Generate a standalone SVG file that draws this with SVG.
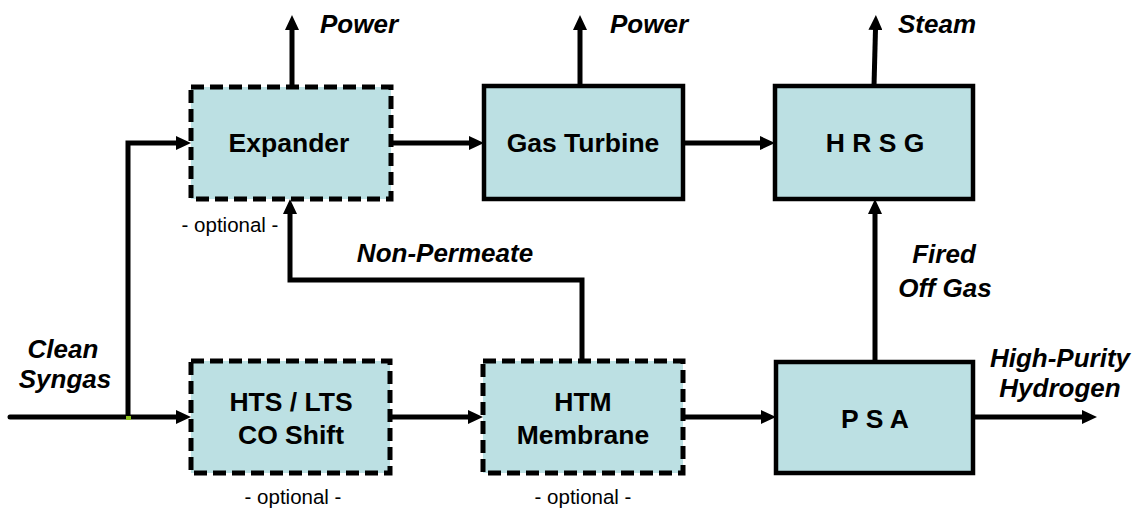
<svg xmlns="http://www.w3.org/2000/svg" width="1137" height="510" viewBox="0 0 1137 510">
<style>
.box{fill:#bce0e3;stroke:#000;stroke-width:4.5}
.dash{stroke-width:5;stroke-dasharray:13 6}
.lbl{font-family:"Liberation Sans",Arial,sans-serif;font-weight:bold;font-size:26.5px;fill:#000;text-anchor:middle}
.it{font-family:"Liberation Sans",Arial,sans-serif;font-weight:bold;font-style:italic;font-size:26px;fill:#000}
.opt{font-family:"Liberation Sans",Arial,sans-serif;font-size:20.5px;fill:#000;text-anchor:middle}
.c{fill:none;stroke:#000;stroke-width:5}
.ca{marker-end:url(#ah)}
</style>
<defs>
<marker id="ah" markerUnits="userSpaceOnUse" markerWidth="16" markerHeight="14" refX="1" refY="7" orient="auto">
<path d="M0,0 L15,7 L0,14 z" fill="#000"/>
</marker>
</defs>
<rect width="1137" height="510" fill="#fff"/>
<g id="connectors">
<path class="c" d="M10,417 H128" stroke-linecap="round"/>
<path class="c ca" d="M126,417 H177"/>
<path class="c ca" d="M128,419 V143 H177"/>
<path class="c ca" d="M292,87 V29"/>
<path class="c ca" d="M580,86 V29"/>
<path class="c ca" d="M874,86 L875.5,29"/>
<path class="c ca" d="M391,143 H470"/>
<path class="c ca" d="M683,143 H761"/>
<path class="c ca" d="M390,417 H469"/>
<path class="c ca" d="M683,417 H762"/>
<path class="c ca" d="M973,417 H1083"/>
<path class="c ca" d="M875,362 V213"/>
<path class="c ca" d="M582,360 V280 H290 V213"/>
<rect x="126" y="416" width="5" height="4" fill="#8fc31f"/>
</g>
<g id="expander">
<rect class="box dash" x="191" y="87" width="200" height="112"/>
<text class="lbl" x="289" y="152">Expander</text>
<text class="opt" x="230" y="232">- optional -</text>
</g>
<g id="gas-turbine">
<rect class="box" x="484" y="86" width="199" height="113"/>
<text class="lbl" x="583" y="152">Gas Turbine</text>
</g>
<g id="hrsg">
<rect class="box" x="775" y="86" width="198" height="113"/>
<text class="lbl" x="875" y="152">H R S G</text>
</g>
<g id="shift">
<rect class="box dash" x="191" y="361" width="199" height="112"/>
<text class="lbl" x="291" y="411">HTS / LTS</text>
<text class="lbl" x="291" y="444">CO Shift</text>
<text class="opt" x="293" y="504">- optional -</text>
</g>
<g id="membrane">
<rect class="box dash" x="483" y="361" width="200" height="112"/>
<text class="lbl" x="583" y="411">HTM</text>
<text class="lbl" x="583" y="444">Membrane</text>
<text class="opt" x="583" y="504">- optional -</text>
</g>
<g id="psa">
<rect class="box" x="776" y="362" width="197" height="111"/>
<text class="lbl" x="875" y="428">P S A</text>
</g>
<g id="labels">
<text class="it" x="320" y="33">Power</text>
<text class="it" x="610" y="33">Power</text>
<text class="it" x="898" y="33">Steam</text>
<text class="it" x="445" y="262" text-anchor="middle">Non-Permeate</text>
<text class="it" x="944" y="263" text-anchor="middle">Fired</text>
<text class="it" x="945" y="297" text-anchor="middle">Off Gas</text>
<text class="it" x="1060" y="367" text-anchor="middle">High-Purity</text>
<text class="it" x="1060" y="397" text-anchor="middle">Hydrogen</text>
<text class="it" x="63" y="358" text-anchor="middle">Clean</text>
<text class="it" x="65" y="388" text-anchor="middle">Syngas</text>
</g>
</svg>
